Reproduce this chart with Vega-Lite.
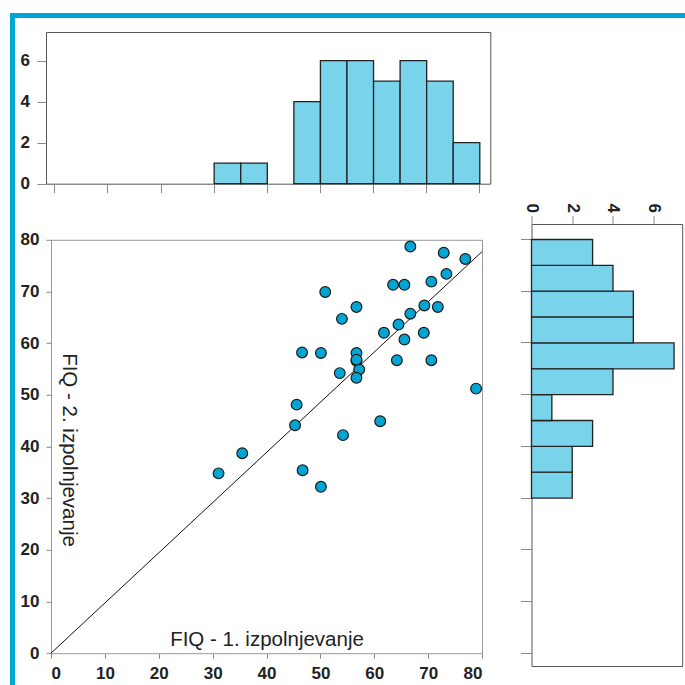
{
  "$schema": "https://vega.github.io/schema/vega-lite/v6.json",
  "padding": {"left": 10, "top": 13, "right": 0, "bottom": 0},
  "background": "white",
  "datasets": {
    "pts": [
      {"fiq1": 31.1, "fiq2": 34.8}, {"fiq1": 35.5, "fiq2": 38.7}, {"fiq1": 45.3, "fiq2": 44.1},
      {"fiq1": 45.6, "fiq2": 48.1}, {"fiq1": 46.6, "fiq2": 58.2}, {"fiq1": 46.7, "fiq2": 35.4},
      {"fiq1": 50.1, "fiq2": 58.1}, {"fiq1": 50.1, "fiq2": 32.2}, {"fiq1": 50.9, "fiq2": 69.9},
      {"fiq1": 53.6, "fiq2": 54.2}, {"fiq1": 54.0, "fiq2": 64.7}, {"fiq1": 54.2, "fiq2": 42.2},
      {"fiq1": 56.7, "fiq2": 67.0}, {"fiq1": 56.7, "fiq2": 58.1}, {"fiq1": 56.7, "fiq2": 56.6},
      {"fiq1": 57.2, "fiq2": 54.9}, {"fiq1": 56.7, "fiq2": 53.3}, {"fiq1": 61.1, "fiq2": 44.9},
      {"fiq1": 61.8, "fiq2": 62.0}, {"fiq1": 63.5, "fiq2": 71.3}, {"fiq1": 64.2, "fiq2": 56.7},
      {"fiq1": 64.5, "fiq2": 63.6}, {"fiq1": 65.6, "fiq2": 71.3}, {"fiq1": 65.6, "fiq2": 60.7},
      {"fiq1": 66.7, "fiq2": 78.7}, {"fiq1": 66.7, "fiq2": 65.7}, {"fiq1": 69.2, "fiq2": 62.0},
      {"fiq1": 69.3, "fiq2": 67.3}, {"fiq1": 70.6, "fiq2": 71.9}, {"fiq1": 70.6, "fiq2": 56.7},
      {"fiq1": 71.8, "fiq2": 67.0}, {"fiq1": 72.9, "fiq2": 77.5}, {"fiq1": 73.4, "fiq2": 73.4},
      {"fiq1": 76.9, "fiq2": 76.3}, {"fiq1": 78.9, "fiq2": 51.2}, {"fiq1": 56.7, "fiq2": 56.8}
    ],
    "fit": [{"fiq1": 0, "fiq2": 0}, {"fiq1": 80, "fiq2": 77.7}]
  },
  "config": {
    "view": {"stroke": null},
    "font": "Liberation Sans",
    "axis": {
      "grid": false,
      "domain": false,
      "labelFont": "Liberation Sans",
      "labelFontWeight": "bold",
      "labelFontSize": 17,
      "labelColor": "#222222",
      "tickColor": "#888888",
      "tickWidth": 1,
      "titleFont": "Liberation Sans",
      "titleFontWeight": "normal",
      "titleColor": "#222222"
    }
  },
  "spacing": 0,
  "vconcat": [
    {"width": 675, "height": 5, "data": {"values": []}, "mark": "point", "view": {"fill": "#00a8d8", "stroke": null}},
    {
      "spacing": 3,
      "hconcat": [
        {"width": 5, "height": 667, "data": {"values": []}, "mark": "point", "view": {"fill": "#00a8d8", "stroke": null}},
        {
          "spacing": 28.5,
          "hconcat": [
            {
              "spacing": 0,
              "vconcat": [
                {"width": 5, "height": 12.3, "data": {"values": []}, "mark": "point"},
                {
                  "spacing": 35.8,
                  "vconcat": [
                    {
                      "spacing": 0,
                      "hconcat": [
                        {"width": 0.01, "height": 1, "data": {"values": []}, "mark": "point"},
                        {
                          "width": 444.3,
                          "height": 151.7,
                          "data": {"name": "pts"},
                          "view": {"stroke": "#555555", "strokeWidth": 1},
                          "mark": {"type": "bar", "fill": "#78d3eb", "stroke": "#222222", "strokeWidth": 1.3, "binSpacing": 0},
                          "encoding": {
                            "x": {"field": "fiq1", "type": "quantitative", "bin": {"step": 5, "extent": [0, 80]},
                                  "scale": {"domain": [-1.56, 82.07], "nice": false, "zero": false},
                                  "axis": {"values": [0, 10, 20, 30, 40, 50, 60, 70, 80], "labels": false, "tickSize": 9, "title": null}},
                            "y": {"aggregate": "count", "type": "quantitative",
                                  "scale": {"domain": [0, 7.4], "nice": false},
                                  "axis": {"values": [0, 2, 4, 6], "tickSize": 9, "labelPadding": 7.5, "title": null}}
                          }
                        }
                      ]
                    },
                    {
                      "spacing": 0,
                      "hconcat": [
                        {"width": 0.01, "height": 1, "data": {"values": []}, "mark": "point"},
                        {
                          "width": 431,
                          "height": 413.4,
                          "view": {"stroke": "#999999", "strokeWidth": 1},
                          "encoding": {
                            "x": {"field": "fiq1", "type": "quantitative",
                                  "scale": {"domain": [0, 80], "nice": false},
                                  "axis": {"values": [0, 10, 20, 30, 40, 50, 60, 70, 80], "tickSize": 5, "labelPadding": 7,
                                           "title": "FIQ - 1. izpolnjevanje", "titleX": 215.5, "titleY": -7.5,
                                           "titleBaseline": "alphabetic", "titleAlign": "center", "titleFontSize": 20.5}},
                            "y": {"field": "fiq2", "type": "quantitative",
                                  "scale": {"domain": [0, 80], "nice": false},
                                  "axis": {"values": [0, 10, 20, 30, 40, 50, 60, 70, 80], "tickSize": 5, "labelPadding": 7,
                                           "title": "FIQ - 2. izpolnjevanje", "titleAngle": 90, "titleX": 17.3, "titleY": 209.7,
                                           "titleAlign": "center", "titleBaseline": "middle", "titleFontSize": 20.5}}
                          },
                          "layer": [
                            {"data": {"name": "fit"}, "mark": {"type": "line", "color": "#111111", "strokeWidth": 1}},
                            {"data": {"name": "pts"}, "mark": {"type": "point", "filled": true, "fill": "#00a5d4", "stroke": "#1a1a1a", "strokeWidth": 1.2, "size": 115, "opacity": 1}}
                          ]
                        }
                      ]
                    }
                  ]
                }
              ]
            },
            {
              "spacing": 0,
              "vconcat": [
                {"width": 5, "height": 183.5, "data": {"values": []}, "mark": "point"},
                {
                  "width": 150.7,
                  "height": 442,
                  "data": {"name": "pts"},
                  "view": {"stroke": "#555555", "strokeWidth": 1},
                  "mark": {"type": "bar", "fill": "#78d3eb", "stroke": "#222222", "strokeWidth": 1.3, "binSpacing": 0},
                  "encoding": {
                    "y": {"field": "fiq2", "type": "quantitative", "bin": {"step": 5, "extent": [0, 80]},
                          "scale": {"domain": [-2.57, 82.9], "nice": false, "zero": false},
                          "axis": {"values": [0, 10, 20, 30, 40, 50, 60, 70, 80], "labels": false, "tickSize": 11, "title": null}},
                    "x": {"aggregate": "count", "type": "quantitative",
                          "scale": {"domain": [0, 7.4], "nice": false},
                          "axis": {"orient": "top", "values": [0, 2, 4, 6], "tickSize": 8.5, "labelAngle": 90,
                                   "labelAlign": "right", "labelBaseline": "middle", "labelPadding": 3, "title": null}}
                  }
                }
              ]
            }
          ]
        }
      ]
    }
  ]
}
